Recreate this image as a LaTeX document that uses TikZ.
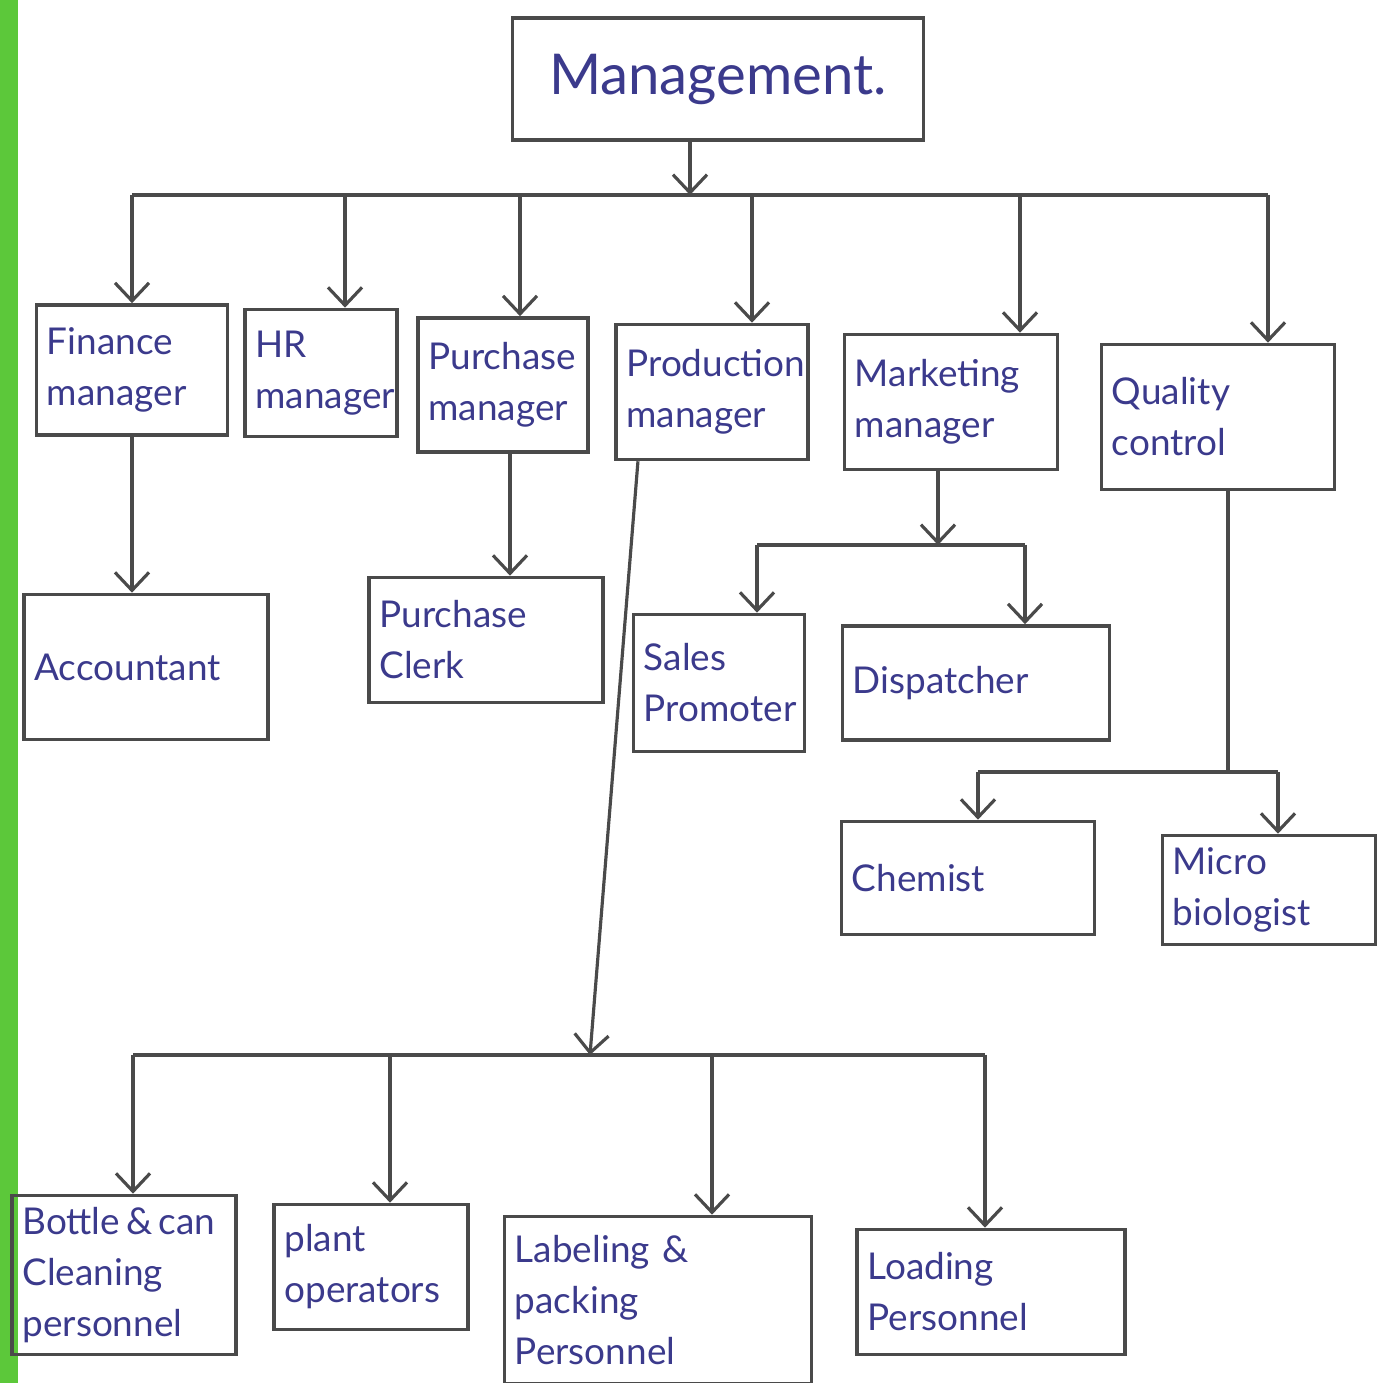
\documentclass[tikz,border=0pt]{standalone}
\usepackage{fontspec}
\setmainfont{Lato}
\usetikzlibrary{arrows.meta}

\definecolor{ink}{HTML}{3B3A8C}
\definecolor{pen}{HTML}{4A4A4A}
\definecolor{edge}{HTML}{5CC83A}

\tikzset{
  box/.style={draw=pen, line width=1pt, text=ink, align=left, inner sep=3pt,
              font=\fontsize{10.5}{14.5}\selectfont},
  arr/.style={draw=pen, line width=0.9pt, -{Straight Barb[length=0.18cm,width=0.34cm]}},
  link/.style={draw=pen, line width=0.9pt}
}

\begin{document}
\begin{tikzpicture}[x=0.01cm, y=-0.01cm]
    \useasboundingbox (0,0) rectangle (1399,1383);
    \fill[edge] (0,0) rectangle (18,1383);

    % top level
    \node[box, text width=3.9cm, minimum height=1.22cm, align=center,
          font=\fontsize{16}{18}\selectfont] (mgmt) at (718,79) {Management.};

    % managers
    \node[box, text width=1.7cm,  minimum height=1.3cm]  (fin)  at (132,370)  {Finance\\manager};
    \node[box, text width=1.31cm, minimum height=1.27cm] (hr)   at (321,373)  {HR\\manager};
    \node[box, text width=1.49cm, minimum height=1.34cm] (pur)  at (503,385)  {Purchase\\manager};
    \node[box, text width=1.71cm, minimum height=1.35cm] (prod) at (712,392)  {Production\\manager};
    \node[box, text width=1.92cm, minimum height=1.35cm] (mkt)  at (951,402)  {Marketing\\manager};
    \node[box, text width=2.12cm, minimum height=1.45cm] (qc)   at (1218,417) {Quality\\control};

    % staff
    \node[box, text width=2.23cm, minimum height=1.45cm] (acct)  at (146,667)  {Accountant};
    \node[box, text width=2.13cm, minimum height=1.25cm] (clerk) at (486,640)  {Purchase\\Clerk};
    \node[box, text width=1.5cm,  minimum height=1.37cm] (sales) at (719,683)  {Sales\\Promoter};
    \node[box, text width=2.46cm, minimum height=1.14cm] (disp)  at (976,683)  {Dispatcher};
    \node[box, text width=2.32cm, minimum height=1.13cm] (chem)  at (968,878)  {Chemist};
    \node[box, text width=1.92cm, minimum height=1.09cm] (micro) at (1269,890) {Micro\\biologist};

    \node[box, text width=2.03cm, minimum height=1.59cm] (bottle) at (124,1275) {\mbox{Bottle\,\&\,can}\\Cleaning\\personnel};
    \node[box, text width=1.73cm, minimum height=1.25cm] (plant)  at (371,1267) {plant\\operators};
    \node[box, text width=2.86cm, minimum height=1.67cm] (label)  at (658,1300) {Labeling \&\\packing\\Personnel};
    \node[box, text width=2.47cm, minimum height=1.25cm] (load)   at (991,1292) {Loading\\Personnel};

    % bus points
    \coordinate (mbus) at (690,195);
    \coordinate (kbus) at (938,545);
    \coordinate (qbus) at (1228,772);
    \coordinate (pbus) at (590,1055);

    % management to managers
    \draw[arr] (mbus |- mgmt.south) -- (mbus);
    \draw[link] (fin.north |- mbus) -- ([xshift=0.5cm]qc.north |- mbus);
    \draw[arr] (fin.north |- mbus) -- (fin.north);
    \draw[arr] ([xshift=0.24cm]hr.north |- mbus) -- ([xshift=0.24cm]hr.north);
    \draw[arr] ([xshift=0.17cm]pur.north |- mbus) -- ([xshift=0.17cm]pur.north);
    \draw[arr] ([xshift=0.4cm]prod.north |- mbus) -- ([xshift=0.4cm]prod.north);
    \draw[arr] ([xshift=0.69cm]mkt.north |- mbus) -- ([xshift=0.69cm]mkt.north);
    \draw[arr] ([xshift=0.5cm]qc.north |- mbus) -- ([xshift=0.5cm]qc.north);

    % finance and purchase
    \draw[arr] (fin.south) -- (fin.south |- acct.north);
    \draw[arr] ([xshift=0.07cm]pur.south) -- ([xshift=0.07cm]pur.south |- clerk.north);

    % marketing
    \draw[arr] (kbus |- mkt.south) -- (kbus);
    \draw[link] ([xshift=0.38cm]sales.north |- kbus) -- ([xshift=0.49cm]disp.north |- kbus);
    \draw[arr] ([xshift=0.38cm]sales.north |- kbus) -- ([xshift=0.38cm]sales.north);
    \draw[arr] ([xshift=0.49cm]disp.north |- kbus) -- ([xshift=0.49cm]disp.north);

    % quality control
    \draw[link] (qbus |- qc.south) -- (qbus);
    \draw[link] ([xshift=0.1cm]chem.north |- qbus) -- ([xshift=0.09cm]micro.north |- qbus);
    \draw[arr] ([xshift=0.1cm]chem.north |- qbus) -- ([xshift=0.1cm]chem.north);
    \draw[arr] ([xshift=0.09cm]micro.north |- qbus) -- ([xshift=0.09cm]micro.north);

    % production
    \draw[arr] ([xshift=-0.74cm]prod.south) -- (pbus);
    \draw[link] ([xshift=0.09cm]bottle.north |- pbus) -- ([xshift=-0.06cm]load.north |- pbus);
    \draw[arr] ([xshift=0.09cm]bottle.north |- pbus) -- ([xshift=0.09cm]bottle.north);
    \draw[arr] ([xshift=0.19cm]plant.north |- pbus) -- ([xshift=0.19cm]plant.north);
    \draw[arr] ([xshift=0.54cm]label.north |- pbus) -- ([xshift=0.54cm]label.north);
    \draw[arr] ([xshift=-0.06cm]load.north |- pbus) -- ([xshift=-0.06cm]load.north);
\end{tikzpicture}
\end{document}
